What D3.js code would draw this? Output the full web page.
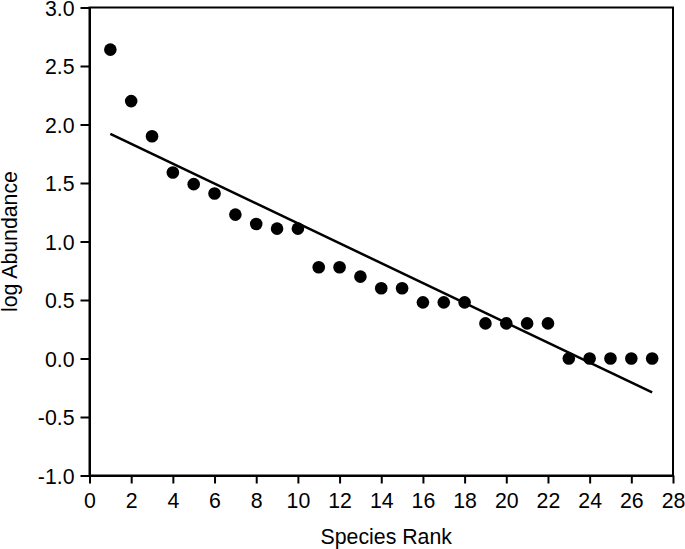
<!DOCTYPE html>
<html>
<head>
<meta charset="utf-8">
<script src="https://cdn.jsdelivr.net/npm/d3@7/dist/d3.min.js"></script>
<style>
  html, body { margin: 0; padding: 0; background: #fff; }
  svg { display: block; font-family: "Liberation Sans", Arial, sans-serif; }
</style>
</head>
<body>
<svg id="chart" width="685" height="549"></svg>
<script>
const ranks = [1,2,3,4,5,6,7,8,9,10,11,12,13,14,15,16,17,18,19,20,21,22,23,24,25,26,27];
const logAbundance = [2.64,2.20,1.90,1.59,1.49,1.41,1.23,1.15,1.11,1.11,0.78,0.78,0.70,0.60,0.60,0.48,0.48,0.48,0.30,0.30,0.30,0.30,0,0,0,0,0];
const fitX = [1, 27];
const fitY = [1.92, -0.29];
const xTicks = [0,2,4,6,8,10,12,14,16,18,20,22,24,26,28];
const yTicks = [-1.0,-0.5,0.0,0.5,1.0,1.5,2.0,2.5,3.0];
const xLabel = "Species Rank";
const yLabel = "log Abundance";

const svg = d3.select("#chart");
const L = 89.5, R = 673, T = 7.5, B = 475.5;
const FS = "21.3px";
const x = d3.scaleLinear().domain([0, 28]).range([L, R]);
const y = d3.scaleLinear().domain([-1, 3]).range([B, T]);

// frame
svg.append("rect").attr("x", L).attr("y", T).attr("width", R - L).attr("height", B - T)
  .attr("fill", "none").attr("stroke", "#000").attr("stroke-width", 2);

const yFmt = d => d3.format(".1f")(d).replace("\u2212", "-");
const xAxis = svg.append("g").attr("transform", `translate(0,${B})`)
  .call(d3.axisBottom(x).tickValues(xTicks).tickFormat(d3.format("d")).tickSize(8).tickSizeOuter(0));
const yAxis = svg.append("g").attr("transform", `translate(${L},0)`)
  .call(d3.axisLeft(y).tickValues(yTicks).tickFormat(yFmt).tickSize(9).tickSizeOuter(0));

[xAxis, yAxis].forEach(g => {
  g.select(".domain").attr("stroke", "#000").attr("stroke-width", 2);
  g.selectAll(".tick line").attr("stroke", "#000").attr("stroke-width", 2);
  g.selectAll(".tick text").attr("fill", "#000").style("font-size", FS)
   .style("font-family", '"Liberation Sans", Arial, sans-serif');
});
xAxis.selectAll(".tick text").attr("dy", "0.71em").attr("y", 17);
yAxis.selectAll(".tick text").attr("x", -15).attr("dy", "0.36em");

// fit line
svg.append("line")
  .attr("x1", x(fitX[0])).attr("y1", y(fitY[0]))
  .attr("x2", x(fitX[1])).attr("y2", y(fitY[1]))
  .attr("stroke", "#000").attr("stroke-width", 2.5);

// points
svg.append("g").selectAll("circle").data(ranks).join("circle")
  .attr("cx", d => x(d)).attr("cy", (d, i) => y(logAbundance[i]))
  .attr("r", 6.3).attr("fill", "#000");

svg.append("text").attr("x", (L + R) / 2 + 5).attr("y", 544)
  .attr("text-anchor", "middle").style("font-size", FS).text(xLabel);
svg.append("text").attr("transform", `translate(16.5,${(T + B) / 2}) rotate(-90)`)
  .attr("text-anchor", "middle").style("font-size", FS).text(yLabel);
</script>
</body>
</html>
